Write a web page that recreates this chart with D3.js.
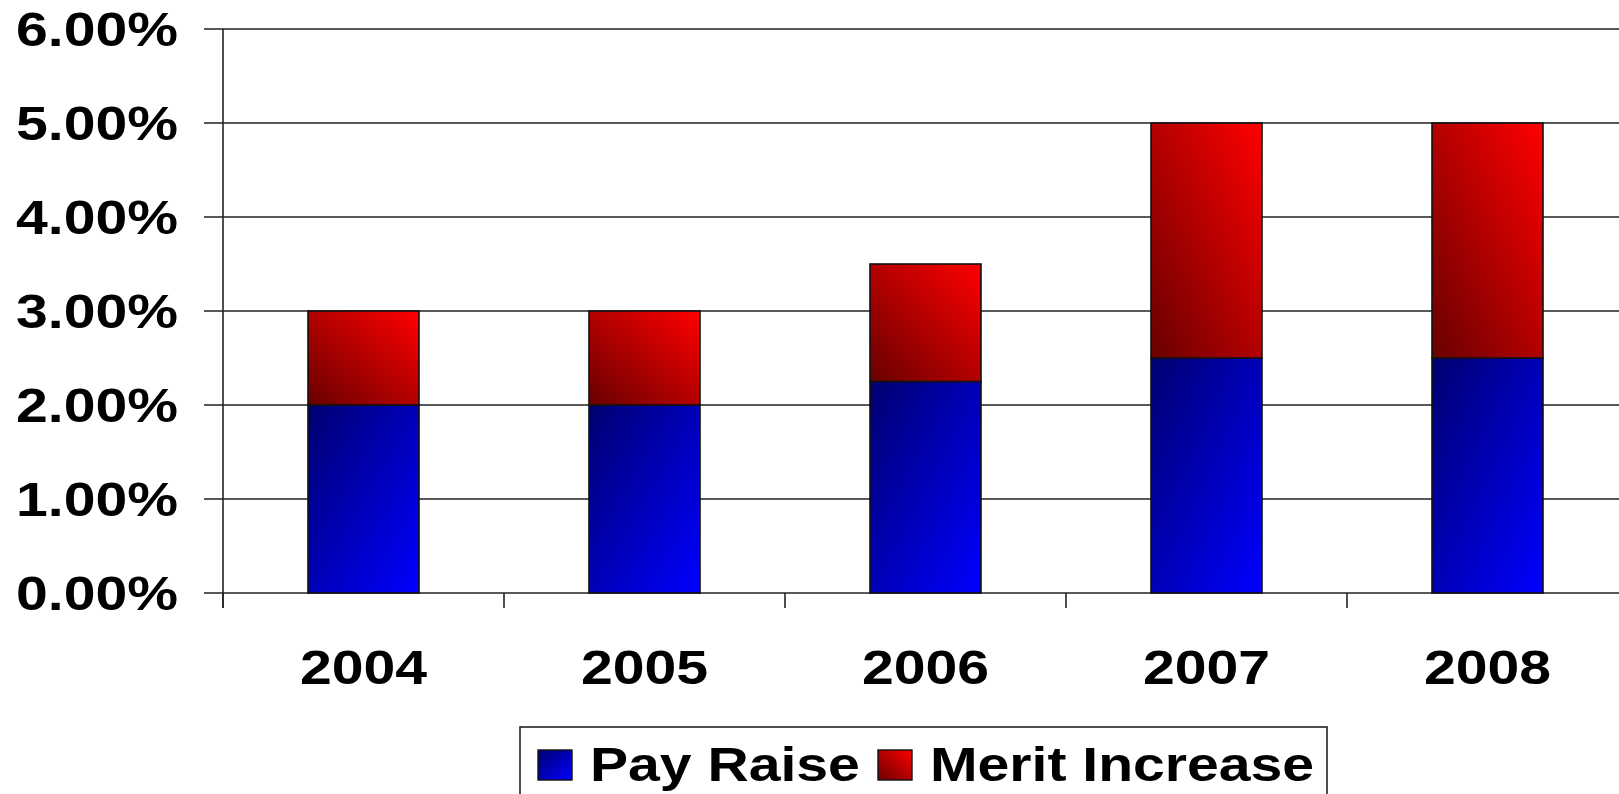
<!DOCTYPE html>
<html>
<head>
<meta charset="utf-8">
<script src="https://cdn.jsdelivr.net/npm/d3@7"></script>
<style>
  html, body { margin: 0; padding: 0; background: #fff; overflow: hidden; }
  text { font-family: "Liberation Sans", Arial, sans-serif; font-weight: bold; fill: #000; }
</style>
</head>
<body>
<div class="canvas"></div>
<script>
const years = ['2004', '2005', '2006', '2007', '2008'];
const payRaise = [2.0, 2.0, 2.25, 2.5, 2.5];
const meritIncrease = [1.0, 1.0, 1.25, 2.5, 2.5];
const yTicks = [0, 1, 2, 3, 4, 5, 6];
const seriesNames = ['Pay Raise', 'Merit Increase'];

const dims = { width: 1619, height: 794 };
const fontSize = 48;
const stretch = 1.19; // the original text is drawn wide

const svg = d3.select('.canvas')
    .append('svg')
    .attr('width', dims.width)
    .attr('height', dims.height);

// gradients: blue dark at top-left, red dark at bottom-left
const defs = svg.append('defs');
const blueGrad = defs.append('linearGradient')
    .attr('id', 'grad-pay')
    .attr('x1', 0).attr('y1', 0).attr('x2', 1).attr('y2', 1);
blueGrad.append('stop').attr('offset', '0%').attr('stop-color', '#000070');
blueGrad.append('stop').attr('offset', '100%').attr('stop-color', '#0000ff');

const redGrad = defs.append('linearGradient')
    .attr('id', 'grad-merit')
    .attr('x1', 0).attr('y1', 1).attr('x2', 1).attr('y2', 0);
redGrad.append('stop').attr('offset', '0%').attr('stop-color', '#680000');
redGrad.append('stop').attr('offset', '100%').attr('stop-color', '#ff0000');

const fills = ['url(#grad-pay)', 'url(#grad-merit)'];

const x = d3.scaleBand()
    .domain(years)
    .range([223, 1628])
    .paddingInner(0.605)
    .paddingOuter(0.3025);

const y = d3.scaleLinear()
    .domain([0, 6])
    .range([593, 29]);

// gridlines
svg.append('g')
    .selectAll('line')
    .data(yTicks)
    .enter()
    .append('line')
    .attr('x1', 204)
    .attr('x2', dims.width)
    .attr('y1', d => y(d))
    .attr('y2', d => y(d))
    .attr('stroke', '#222')
    .attr('stroke-width', 1.6);

// y axis line
svg.append('line')
    .attr('x1', 223).attr('x2', 223)
    .attr('y1', y(6)).attr('y2', y(0) + 15)
    .attr('stroke', '#222')
    .attr('stroke-width', 1.6);

// category ticks at band boundaries
const step = x.step();
svg.append('g')
    .selectAll('line')
    .data(d3.range(years.length + 1))
    .enter()
    .append('line')
    .attr('x1', i => x.range()[0] + i * step)
    .attr('x2', i => x.range()[0] + i * step)
    .attr('y1', y(0))
    .attr('y2', y(0) + 15)
    .attr('stroke', '#222')
    .attr('stroke-width', 1.6);

// y labels
svg.append('g')
    .selectAll('text')
    .data(yTicks)
    .enter()
    .append('text')
    .attr('transform', d => `translate(178, ${y(d)}) scale(${stretch}, 1)`)
    .attr('text-anchor', 'end')
    .attr('dy', '0.36em')
    .attr('font-size', fontSize)
    .text(d => d3.format('.2f')(d) + '%');

// x labels
svg.append('g')
    .selectAll('text')
    .data(years)
    .enter()
    .append('text')
    .attr('transform', d => `translate(${x(d) + x.bandwidth() / 2}, 667) scale(${stretch}, 1)`)
    .attr('text-anchor', 'middle')
    .attr('dy', '0.36em')
    .attr('font-size', fontSize)
    .text(d => d);

// stacked bars
const table = years.map((yr, i) => ({ year: yr, pay: payRaise[i], merit: meritIncrease[i] }));
const stacked = d3.stack().keys(['pay', 'merit'])(table);

svg.append('g')
    .selectAll('g')
    .data(stacked)
    .enter()
    .append('g')
    .attr('fill', (d, i) => fills[i])
    .selectAll('rect')
    .data(d => d)
    .enter()
    .append('rect')
    .attr('x', d => x(d.data.year))
    .attr('y', d => y(d[1]))
    .attr('width', x.bandwidth())
    .attr('height', d => y(d[0]) - y(d[1]))
    .attr('stroke', '#111')
    .attr('stroke-width', 1.6);

// legend
const legend = svg.append('g');
legend.append('rect')
    .attr('x', 520).attr('y', 727)
    .attr('width', 807).attr('height', 100)
    .attr('fill', '#fff')
    .attr('stroke', '#222')
    .attr('stroke-width', 1.6);

const legendX = [538, 878];
const items = legend.selectAll('.item')
    .data(seriesNames)
    .enter()
    .append('g')
    .attr('class', 'item')
    .attr('transform', (d, i) => `translate(${legendX[i]}, 750)`);

items.append('rect')
    .attr('width', 34).attr('height', 30)
    .attr('fill', (d, i) => fills[i])
    .attr('stroke', '#111')
    .attr('stroke-width', 1.4);

items.append('text')
    .attr('transform', `translate(52, 31) scale(${stretch}, 1)`)
    .attr('font-size', fontSize)
    .text(d => d);
</script>
</body>
</html>
